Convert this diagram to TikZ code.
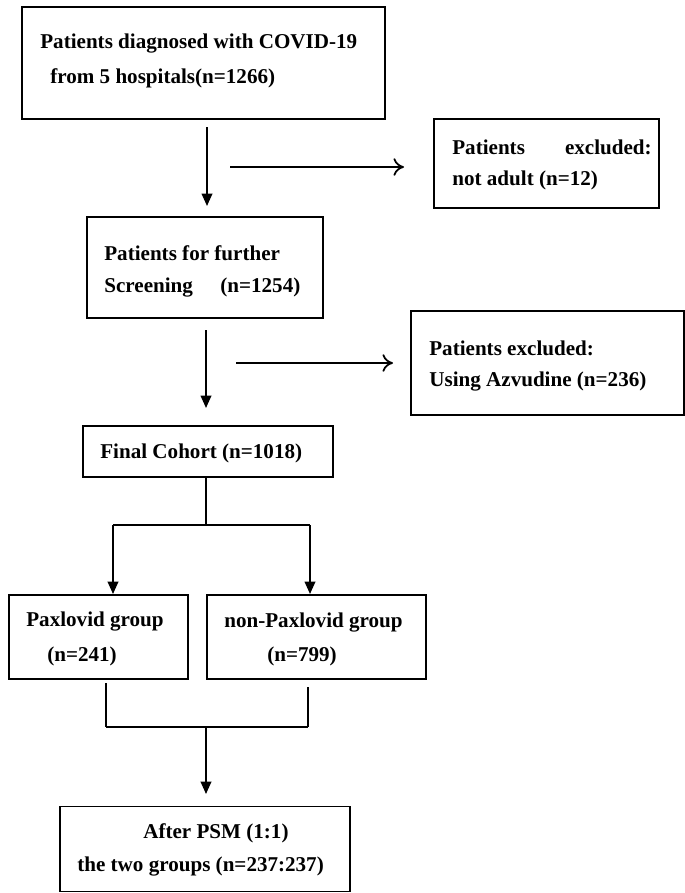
\documentclass[tikz,border=0pt]{standalone}
\usepackage{fontspec}
\setmainfont{Liberation Serif}
\usetikzlibrary{positioning, calc, arrows.meta}

\begin{document}
\begin{tikzpicture}[x=0.02cm, y=-0.02cm,
    every node/.style={font=\fontsize{12}{15}\selectfont\bfseries},
    box/.style={draw, rectangle, line width=0.8pt, inner sep=0pt},
    txt/.style={align=left, anchor=west, inner sep=0pt},
    arr/.style={-{Triangle[length=7pt, width=6pt]}, line width=1pt},
    oarr/.style={-{To[length=6pt, width=10pt]}, line width=1pt}]
    \useasboundingbox (0,0) rectangle (685,893);

    % boxes
    \node[box, minimum width=363*0.02cm, minimum height=112*0.02cm] (dx) at (203.5,63) {};
    \node[txt] at (40,44) {Patients diagnosed with COVID-19};
    \node[txt] at (50,78) {from 5 hospitals(n=1266)};

    \node[box, minimum width=225*0.02cm, minimum height=89*0.02cm] (ex1) at (546.5,163.5) {};
    \node[txt] at (452,147) {Patients\hspace{1.9em}excluded:};
    \node[txt] at (452,180) {not adult (n=12)};

    \node[box, minimum width=236*0.02cm, minimum height=101*0.02cm] (scr) at (205,267.5) {};
    \node[txt] at (104,253) {Patients for further};
    \node[txt] at (104,288) {Screening\hspace{1.3em}(n=1254)};

    \node[box, minimum width=273*0.02cm, minimum height=104*0.02cm] (ex2) at (547.5,363) {};
    \node[txt] at (429,348) {Patients excluded:};
    \node[txt] at (429,382) {Using Azvudine (n=236)};

    \node[box, minimum width=250*0.02cm, minimum height=51*0.02cm] (fin) at (208,451.5) {};
    \node[txt] at (100,453) {Final Cohort (n=1018)};

    \node[box, minimum width=179*0.02cm, minimum height=84*0.02cm] (pax) at (98.5,637) {};
    \node[txt] at (26,622) {Paxlovid group};
    \node[txt] at (47,656) {(n=241)};

    \node[box, minimum width=219*0.02cm, minimum height=84*0.02cm] (non) at (316.5,637) {};
    \node[txt] at (224,623) {non-Paxlovid group};
    \node[txt] at (267,656) {(n=799)};

    \node[box, minimum width=290*0.02cm, minimum height=85*0.02cm] (psm) at (205,849) {};
    \node[txt] at (143,833) {After PSM (1:1)};
    \node[txt] at (77,867) {the two groups (n=237:237)};

    % flow
    \coordinate (a1) at (207,127);
    \coordinate (h1s) at (230,167);
    \coordinate (h1e) at (404,167);
    \draw[arr] (a1) -- (207,206);
    \draw[oarr] (h1s) -- (h1e);

    \coordinate (b1) at (206,330);
    \coordinate (h2s) at (236,363);
    \coordinate (h2e) at (393,363);
    \draw[arr] (b1) -- (206,408);
    \draw[oarr] (h2s) -- (h2e);

    \coordinate (c1) at (206,525);
    \coordinate (cl) at (113,525);
    \coordinate (cr) at (310,525);
    \draw[line width=1pt] (206,477) -- (c1);
    \draw[line width=1.5pt] (cl) -- (cr);
    \draw[arr] (cl) -- (113,594);
    \draw[arr] (cr) -- (310,594);

    \coordinate (dl) at (106,727);
    \coordinate (dr) at (308,727);
    \coordinate (d1) at (206,727);
    \draw[line width=1pt] (106,683) -- (dl);
    \draw[line width=1pt] (308,687) -- (dr);
    \draw[line width=1.5pt] (dl) -- (dr);
    \draw[arr] (d1) -- (206,794);
\end{tikzpicture}
\end{document}
